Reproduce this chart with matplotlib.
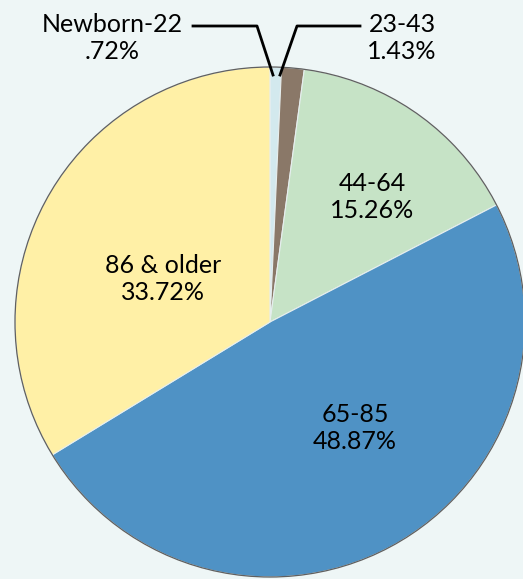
import matplotlib.pyplot as plt
from matplotlib.patches import Circle

# age groups and shares, clockwise from the top
groups = ['Newborn-22', '23-43', '44-64', '65-85', '86 & older']
shares = [0.72, 1.43, 15.26, 48.87, 33.72]
share_text = ['.72%', '1.43%', '15.26%', '48.87%', '33.72%']
colors = ['#d3e9ee', '#8a7868', '#c6e3c6', '#4f92c5', '#fff0a6']

W, H = 523, 579
fig = plt.figure(figsize=(W/100, H/100), dpi=100)
fig.patch.set_facecolor('#eef6f6')
ax = fig.add_axes([0, 0, 1, 1])

cx, cy, r = 270, H - 322, 255
ax.pie(shares, colors=colors, startangle=90, counterclock=False,
       center=(cx, cy), radius=r, frame=True,
       wedgeprops=dict(edgecolor='#e6eeee', linewidth=0.8))
ax.set_xlim(0, W)
ax.set_ylim(0, H)
ax.set_aspect('equal')
ax.axis('off')
ax.add_patch(Circle((cx, cy), r, fill=False, edgecolor='#606060', lw=0.9))

font = 'Lato'
fs = 18

# inner labels (pixel positions, y from top)
inner = {2: (372, 197), 3: (355, 428), 4: (163, 279)}
for i, (x, y) in inner.items():
    ax.text(x, H - y, groups[i] + '\n' + share_text[i], ha='center', va='center',
            fontsize=fs, family=font, linespacing=1.2, color='black')

# outside labels with leader lines
ax.text(112, H - 38, groups[0] + '\n' + share_text[0], ha='center', va='center',
        fontsize=fs, family=font, linespacing=1.2)
ax.plot([193, 257, 273], [H - 26, H - 26, H - 75], color='black', lw=2)
ax.text(402, H - 38, groups[1] + '\n' + share_text[1], ha='center', va='center',
        fontsize=fs, family=font, linespacing=1.2)
ax.plot([360, 297, 280], [H - 26, H - 26, H - 75], color='black', lw=2)

fig.savefig('out.png', dpi=100, facecolor=fig.get_facecolor())
